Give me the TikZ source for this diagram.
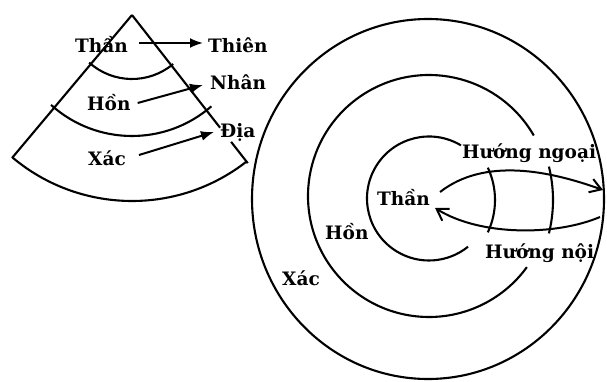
\documentclass[tikz,border=0pt]{standalone}
\usepackage{fontspec}
\setmainfont{DejaVu Serif}
\usetikzlibrary{arrows.meta,calc}
\begin{document}
\begin{tikzpicture}[x=1pt,y=1pt,
  lbl/.style={font=\fontsize{18.5}{22}\selectfont\bfseries, inner sep=0pt, anchor=base west},
  edge/.style={line width=2.1pt},
  fanarrow/.style={line width=2pt, -{Latex[length=13pt,width=10pt]}},
  barb/.style={line width=2pt, -{Straight Barb[length=11pt,width=14pt,line width=2pt]}}]
\useasboundingbox (0,0) rectangle (607,381);

% fan (Thiên - Nhân - Địa)
\coordinate (A) at (132,366);
\draw[edge,line join=round] (A) -- ++(230:186) arc[start angle=230,end angle=308,radius=186];
\draw[edge] (A) -- ($(A)+(308:143)$);
\draw[edge] ($(A)+(308:161)$) -- ($(A)+(308:188)$);
\draw[edge] ($(A)+(228:64)$) arc[start angle=228,end angle=310,radius=64];
\draw[edge] ($(A)+(228:121)$) arc[start angle=228,end angle=311,radius=121];

\node[lbl] (thanA) at (75,328) {Thần};
\node[lbl] (thien) at (208,328) {Thiên};
\node[lbl] (honA) at (87,271) {Hồn};
\node[lbl] (nhan) at (210,291) {Nhân};
\node[lbl] (xacA) at (88,216) {Xác};
\node[lbl] (dia) at (220,244) {Địa};

\draw[fanarrow] ($(thanA.base east)+(11,10)$) -- ($(thien.base west)+(-5,10)$);
\draw[fanarrow] ($(honA.base east)+(7,7)$) -- ($(nhan.base west)+(-7,5)$);
\draw[fanarrow] ($(xacA.base east)+(13,10)$) -- ($(dia.base west)+(-6,5)$);

% concentric circles
\draw[edge] (428,182) ellipse[x radius=176,y radius=180];
\draw[edge] ($(429,185)+(30:121)$) arc[start angle=30,end angle=324,radius=121];
\draw[edge] ($(429,182.5)+(59:62)$) arc[start angle=59,end angle=309,radius=62];
\draw[edge] ($(418.5,181)+(-25:76.5)$) arc[start angle=-25,end angle=25,radius=76.5];
\draw[edge] ($(415,181)+(-14:138)$) arc[start angle=-14,end angle=14,radius=138];

\node[lbl] (thanB) at (377,176) {Thần};
\node[lbl] (honB) at (325,142) {Hồn};
\node[lbl] (xacB) at (282,96) {Xác};
\node[lbl] (ngoai) at (462,223) {Hướng ngoại};
\node[lbl] (noi) at (485,123) {Hướng nội};

\coordinate (outtip) at (603,191);
\coordinate (instart) at (600,164);
\draw[barb] ($(thanB.base east)+(10,13)$) .. controls (485,224) and (550,210) .. (outtip);
\draw[barb] (instart) .. controls (555,145) and (480,145) .. ($(thanB.base east)+(5,-3)$);
\end{tikzpicture}
\end{document}
